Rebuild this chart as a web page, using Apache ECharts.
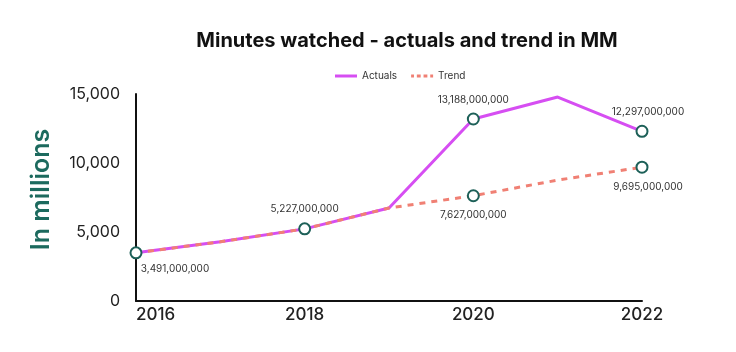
<!DOCTYPE html>
<html><head><meta charset="utf-8">
<script src="https://cdn.jsdelivr.net/npm/echarts@6/dist/echarts.min.js"></script>
<style>html,body{margin:0;padding:0;background:#fff}#c{width:736px;height:352px}</style>
</head><body><div id="c"></div>
<script>
const years = ['2016','2017','2018','2019','2020','2021','2022'];
const actuals = [3491, 4290, 5227, 6740, 13188, 14780, 12297];
const trend = [3491, 4290, 5227, 6740, 7627, 8760, 9695];
const actualLabels = [null, null, null, null, '13,188,000,000', null, '12,297,000,000'];
const trendLabels = ['3,491,000,000', null, '5,227,000,000', null, '7,627,000,000', null, '9,695,000,000'];
const trendLabelPos = ['bottom', null, 'top', null, 'bottom', null, 'bottom'];
const yTicks = [0, 5000, 10000, 15000];

const markerStyle = {color:'#fff', borderColor:'#1d6058', borderWidth:2};
function build(vals, labels, positions){
  return vals.map((v,i)=>{
    if(labels[i]==null) return {value:v, symbol:'none'};
    const item = {value:v, symbol:'circle', symbolSize:11, itemStyle:markerStyle,
      label:{show:true, formatter:labels[i], position:positions[i], distance:8,
        fontFamily:'Inter', fontSize:10, color:'#333'}};
    if(i===0){ item.label.offset=[39,-3]; }
    if(i===6){ item.label.offset=[6,0]; }
    return item;
  });
}
const chart = echarts.init(document.getElementById('c'));
chart.setOption({
  animation:false,
  title:{text:'Minutes watched - actuals and trend in MM', left:402, top:26, textAlign:'center',
    textStyle:{fontFamily:'Inter', fontSize:20, fontWeight:'bold', color:'#111'}},
  legend:{top:66, left:330, itemWidth:22, itemHeight:3, itemGap:14,
    textStyle:{fontFamily:'Inter', fontSize:10, color:'#333'},
    data:[
      {name:'Actuals', icon:'path://M0,0 L22,0 L22,3 L0,3 Z'},
      {name:'Trend', icon:'path://M0,0 L3,0 L3,3 L0,3 Z M6,0 L10,0 L10,3 L6,3 Z M13,0 L17,0 L17,3 L13,3 Z M20,0 L23,0 L23,3 L20,3 Z'}
    ]},
  grid:{left:136, right:94, top:94, bottom:51, containLabel:false},
  xAxis:{type:'category', data:years, boundaryGap:false,
    axisLine:{lineStyle:{color:'#111', width:2}}, axisTick:{show:false},
    axisLabel:{interval:1, margin:5, alignMinLabel:'left', fontFamily:'Inter', fontSize:17, fontWeight:500, color:'#222'}},
  yAxis:{type:'value', min:yTicks[0], max:yTicks[yTicks.length-1], interval:5000,
    name:'In millions', nameLocation:'middle', nameGap:82, nameRotate:90,
    nameTextStyle:{fontFamily:'Inter', fontSize:25, fontWeight:600, color:'#1c6a5e', padding:[0,0,0,16]},
    axisLine:{show:true, lineStyle:{color:'#111', width:2}}, axisTick:{show:false}, splitLine:{show:false},
    axisLabel:{margin:16, fontFamily:'Inter', fontSize:16, color:'#222',
      formatter:v=>v.toLocaleString('en-US')}},
  series:[
    {name:'Actuals', type:'line', data:build(actuals, actualLabels, ['top','top','top','top','top','top','top']),
      lineStyle:{color:'#d64ef2', width:3}, itemStyle:{color:'#d64ef2'}, z:2},
    {name:'Trend', type:'line', data:build(trend, trendLabels, trendLabelPos),
      lineStyle:{color:'#f08074', width:3, type:[6,6]}, itemStyle:{color:'#f08074'}, z:3}
  ]
});
</script></body></html>
